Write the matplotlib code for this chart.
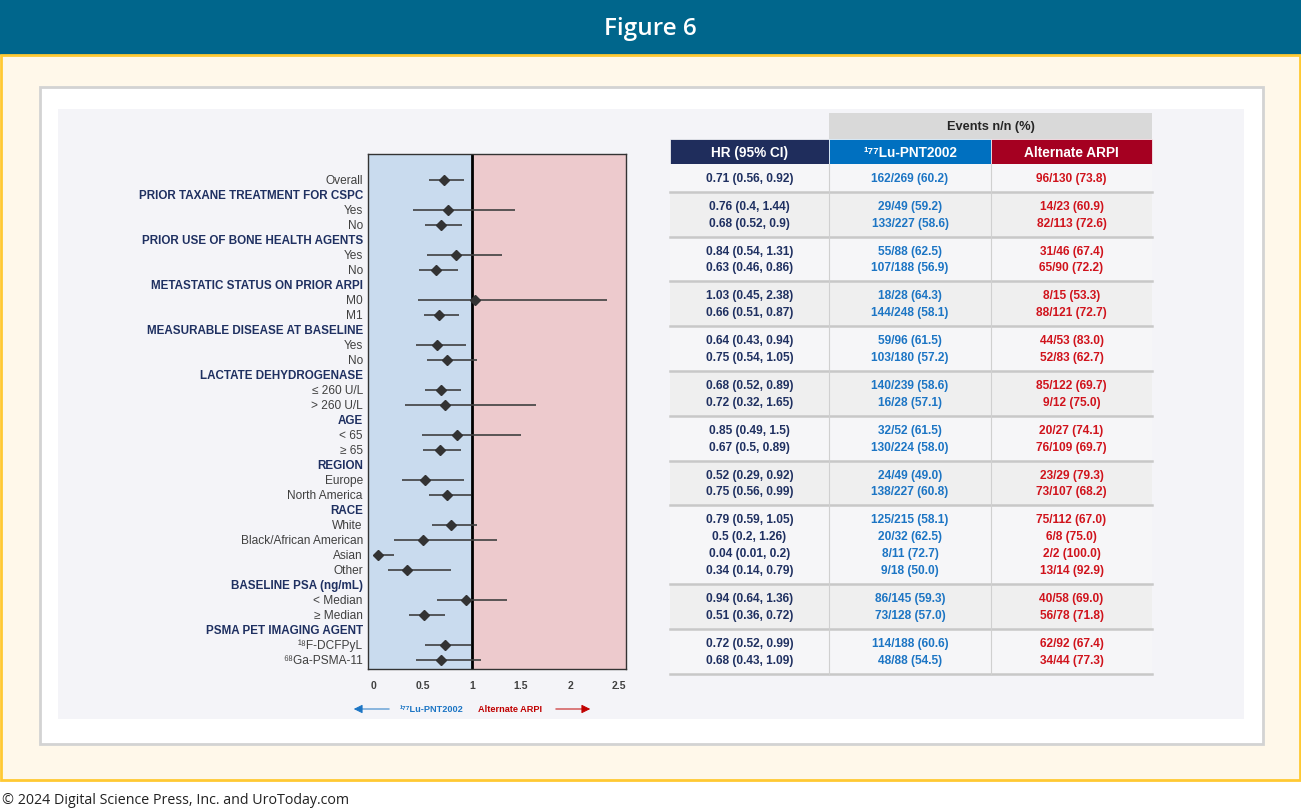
""" Forest plot + events table (Figure 6) """
import numpy as np
import matplotlib
matplotlib.use("Agg")
import matplotlib.pyplot as plt
from matplotlib.patches import Rectangle

# --- data ---
group_headers = ["PRIOR TAXANE TREATMENT FOR CSPC", "PRIOR USE OF BONE HEALTH AGENTS",
                 "METASTATIC STATUS ON PRIOR ARPI", "MEASURABLE DISEASE AT BASELINE",
                 "LACTATE DEHYDROGENASE", "AGE", "REGION", "RACE",
                 "BASELINE PSA (ng/mL)", "PSMA PET IMAGING AGENT"]
group_sizes = [1, 2, 2, 2, 2, 2, 2, 2, 4, 2, 2]  # first group = Overall (no header)
subgroups = ["Overall", "Yes", "No", "Yes", "No", "M0", "M1", "Yes", "No",
             "\u2264 260 U/L", "> 260 U/L", "< 65", "\u2265 65", "Europe", "North America",
             "White", "Black/African American", "Asian", "Other",
             "< Median", "\u2265 Median", "\u00b9\u2078F-DCFPyL", "\u2076\u2078Ga-PSMA-11"]
hr = [0.71, 0.76, 0.68, 0.84, 0.63, 1.03, 0.66, 0.64, 0.75, 0.68, 0.72, 0.85, 0.67,
      0.52, 0.75, 0.79, 0.5, 0.04, 0.34, 0.94, 0.51, 0.72, 0.68]
ci_low = [0.56, 0.4, 0.52, 0.54, 0.46, 0.45, 0.51, 0.43, 0.54, 0.52, 0.32, 0.49, 0.5,
          0.29, 0.56, 0.59, 0.2, 0.01, 0.14, 0.64, 0.36, 0.52, 0.43]
ci_high = [0.92, 1.44, 0.9, 1.31, 0.86, 2.38, 0.87, 0.94, 1.05, 0.89, 1.65, 1.5, 0.89,
           0.92, 0.99, 1.05, 1.26, 0.2, 0.79, 1.36, 0.72, 0.99, 1.09]
lu_events = ["162/269 (60.2)", "29/49 (59.2)", "133/227 (58.6)", "55/88 (62.5)",
             "107/188 (56.9)", "18/28 (64.3)", "144/248 (58.1)", "59/96 (61.5)",
             "103/180 (57.2)", "140/239 (58.6)", "16/28 (57.1)", "32/52 (61.5)",
             "130/224 (58.0)", "24/49 (49.0)", "138/227 (60.8)", "125/215 (58.1)",
             "20/32 (62.5)", "8/11 (72.7)", "9/18 (50.0)", "86/145 (59.3)",
             "73/128 (57.0)", "114/188 (60.6)", "48/88 (54.5)"]
arpi_events = ["96/130 (73.8)", "14/23 (60.9)", "82/113 (72.6)", "31/46 (67.4)",
               "65/90 (72.2)", "8/15 (53.3)", "88/121 (72.7)", "44/53 (83.0)",
               "52/83 (62.7)", "85/122 (69.7)", "9/12 (75.0)", "20/27 (74.1)",
               "76/109 (69.7)", "23/29 (79.3)", "73/107 (68.2)", "75/112 (67.0)",
               "6/8 (75.0)", "2/2 (100.0)", "13/14 (92.9)", "40/58 (69.0)",
               "56/78 (71.8)", "62/92 (67.4)", "34/44 (77.3)"]
x_ticks = [0, 0.5, 1, 1.5, 2, 2.5]
x_ticklabels = ["0", "0.5", "1", "1.5", "2", "2.5"]

plt.rcParams["font.family"] = ["Liberation Sans", "DejaVu Sans"]

NAVY = "#1F3061"
GREY_TXT = "#404040"
BLUE = "#1C75C4"
RED = "#D0131C"

W, H = 1301, 812
fig = plt.figure(figsize=(W / 100, H / 100), dpi=100)
fig.patch.set_facecolor("white")

# background axes in pixel coordinates
bg = fig.add_axes([0, 0, 1, 1])
bg.set_xlim(0, W)
bg.set_ylim(H, 0)
bg.axis("off")

bg.add_patch(Rectangle((0, 0), W, 56, color="#00668C", lw=0))
bg.text(W / 2, 29, "Figure 6", color="white", fontsize=17.5, fontweight="semibold",
        family=["Open Sans", "DejaVu Sans"], ha="center", va="center")
bg.add_patch(Rectangle((1, 56), W - 2, 725, facecolor="#FFF8EA", edgecolor="#FFC933", lw=2))
bg.add_patch(Rectangle((40, 88), 1223, 657, facecolor="white", edgecolor="#D3D3D3", lw=2))
bg.add_patch(Rectangle((58, 110), 1186, 610, facecolor="#F4F4F8", lw=0))
bg.text(2, 801, "\u00a9 2024 Digital Science Press, Inc. and UroToday.com", color="#222222",
        fontsize=10.3, family=["Open Sans", "DejaVu Sans"], ha="left", va="center")

# --- build rows for forest plot ---
labels, kinds, vals = [], [], []
k = 0
for g, n in enumerate(group_sizes):
    if g > 0:
        labels.append(group_headers[g - 1]); kinds.append("h"); vals.append(None)
    for _ in range(n):
        labels.append(subgroups[k]); kinds.append("i"); vals.append(k)
        k += 1
ypos = np.arange(len(labels))

ax = fig.add_axes([368 / W, 1 - 670 / H, 258 / W, 515 / H])
ax.set_xlim(-0.061, 2.571)
ax.set_ylim(32.6, -1.73)
ax.axvspan(-0.061, 1, color="#C9DBEE", lw=0)
ax.axvspan(1, 2.571, color="#EDCACD", lw=0)
ax.axvline(1, color="black", lw=2)
for y, kind, v in zip(ypos, kinds, vals):
    if v is None:
        continue
    ax.plot([ci_low[v], ci_high[v]], [y, y], color="#404040", lw=1.2, solid_capstyle="butt")
    ax.plot(hr[v], y, marker="D", color="#333333", ms=5.5)
for y, lab, kind in zip(ypos, labels, kinds):
    if kind == "h":
        ax.text(-0.02, y, lab, transform=ax.get_yaxis_transform(), ha="right", va="center",
                fontsize=8.4, fontweight="bold", color=NAVY)
    else:
        ax.text(-0.02, y, lab, transform=ax.get_yaxis_transform(), ha="right", va="center",
                fontsize=8.6, color=GREY_TXT)
ax.set_yticks([])
ax.set_xticks(x_ticks)
ax.set_xticklabels(x_ticklabels, fontsize=7.5, fontweight="bold", color=GREY_TXT)
ax.tick_params(axis="x", length=0, pad=8)
for s in ax.spines.values():
    s.set_color("#333333")
    s.set_linewidth(1)

# arrows under the plot
bg.annotate("", xy=(351, 710), xytext=(392, 710),
            arrowprops=dict(arrowstyle="-|>", color="#1C75C4", lw=0.7, mutation_scale=13))
bg.annotate("", xy=(593, 710), xytext=(553, 710),
            arrowprops=dict(arrowstyle="-|>", color="#C00000", lw=0.7, mutation_scale=13))
bg.text(400, 710, "\u00b9\u2077\u2077Lu-PNT2002", color=BLUE, fontsize=6.6, fontweight="bold",
        ha="left", va="center")
bg.text(478, 710, "Alternate ARPI", color="#C00000", fontsize=6.6, fontweight="bold",
        ha="left", va="center")

# --- table ---
col_edges = [670, 829, 991, 1152]
col_mid = [(a + b) / 2 for a, b in zip(col_edges[:-1], col_edges[1:])]
bg.add_patch(Rectangle((829, 114), 323, 26, color="#D9D9D9", lw=0))
bg.text((829 + 1152) / 2, 127, "Events n/n (%)", fontsize=9.2, fontweight="bold",
        color="#262626", ha="center", va="center")
head_cols = ["#1F2D5C", "#0070C0", "#A50021"]
head_txt = ["HR (95% CI)", "\u00b9\u2077\u2077Lu-PNT2002", "Alternate ARPI"]
for i in range(3):
    bg.add_patch(Rectangle((col_edges[i], 140), col_edges[i + 1] - col_edges[i], 25,
                           facecolor=head_cols[i], edgecolor="white", lw=0.5))
    bg.text(col_mid[i], 153, head_txt[i], color="white", fontsize=9.8, fontweight="bold",
            ha="center", va="center")

line_h = 17
y0 = 165
k = 0
for g, n in enumerate(group_sizes):
    gh = n * line_h + 10.8
    fc = "#F6F6F8" if g % 2 == 0 else "#EFEFEF"
    bg.add_patch(Rectangle((670, y0), 482, gh, color=fc, lw=0))
    first = y0 + gh / 2 - (n - 1) * line_h / 2
    for j in range(n):
        yy = first + j * line_h
        bg.text(col_mid[0], yy, f"{hr[k]:g} ({ci_low[k]:g}, {ci_high[k]:g})", color=NAVY,
                fontsize=8.6, fontweight="bold", ha="center", va="center")
        bg.text(col_mid[1], yy, lu_events[k], color=BLUE, fontsize=8.6, fontweight="bold",
                ha="center", va="center")
        bg.text(col_mid[2], yy, arpi_events[k], color=RED, fontsize=8.6, fontweight="bold",
                ha="center", va="center")
        k += 1
    y0 += gh
    bg.plot([670, 1152], [y0, y0], color="#C8C8C8", lw=1.8)
for x in col_edges[1:-1]:
    bg.plot([x, x], [165, y0], color="#D0D0D0", lw=0.8)

fig.savefig("out.png", dpi=100, facecolor=fig.get_facecolor())
